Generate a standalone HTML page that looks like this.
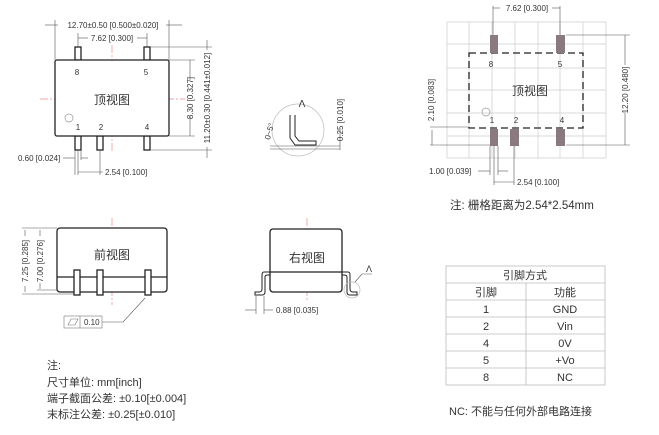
<!DOCTYPE html>
<html><head><meta charset="utf-8"><style>
html,body{margin:0;padding:0;background:#fff;width:659px;height:435px;overflow:hidden}
svg{display:block}
text{font-family:"Liberation Sans","Noto Sans CJK SC",sans-serif;fill:#333}
.s{font-size:8px}
.c{font-size:12px}
.ln{stroke:#222;stroke-width:1.3;fill:#fff}
.d{stroke:#555;stroke-width:0.6;fill:none}
.r{stroke:#e88;stroke-width:0.7;stroke-dasharray:8 2 2 2;fill:none}
.g{stroke:#ccc;stroke-width:0.7}
</style></head><body>
<svg width="659" height="435" viewBox="0 0 659 435">
<!-- TOP VIEW -->
<line class="r" x1="40" y1="99" x2="185" y2="99"/>
<line class="r" x1="112" y1="45" x2="112" y2="152"/>
<g class="ln">
<rect x="75" y="47" width="6" height="13"/><rect x="144" y="47" width="6" height="13"/>
<rect x="75" y="136" width="6" height="14"/><rect x="97" y="136" width="6" height="14"/><rect x="144" y="136" width="6" height="14"/>
<rect x="55" y="60" width="114" height="76" rx="2"/>
</g>
<circle cx="69" cy="118" r="4" fill="none" stroke="#999" stroke-width="0.7"/>
<text x="112" y="104" class="c" text-anchor="middle">顶视图</text>
<g class="s" text-anchor="middle"><text x="77" y="75">8</text><text x="146" y="75">5</text><text x="78" y="130">1</text><text x="101" y="130">2</text><text x="147" y="130">4</text></g>
<g class="d">
<line x1="55" y1="20" x2="55" y2="60"/><line x1="169" y1="20" x2="169" y2="60"/>
<line x1="45" y1="25" x2="58" y2="25"/><line x1="166" y1="25" x2="182" y2="25"/>
<line x1="78" y1="33" x2="78" y2="47"/><line x1="147" y1="33" x2="147" y2="47"/>
<line x1="78" y1="38" x2="88" y2="38"/><line x1="137" y1="38" x2="147" y2="38"/>
<line x1="169" y1="60" x2="195" y2="60"/><line x1="169" y1="136" x2="195" y2="136"/>
<line x1="190" y1="60" x2="190" y2="80"/><line x1="190" y1="116" x2="190" y2="136"/>
<line x1="150" y1="47" x2="212" y2="47"/><line x1="150" y1="150" x2="212" y2="150"/>
<line x1="207" y1="40" x2="207" y2="50"/><line x1="207" y1="147" x2="207" y2="158"/>
<line x1="75" y1="150" x2="75" y2="175"/><line x1="81" y1="150" x2="81" y2="160"/><line x1="100" y1="150" x2="100" y2="175"/><line x1="78" y1="150" x2="78" y2="175"/>
<line x1="63" y1="158" x2="75" y2="158"/><line x1="81" y1="158" x2="88" y2="158"/>
<line x1="78" y1="172" x2="103" y2="172"/>
</g>
<text x="113" y="28" class="s" text-anchor="middle">12.70±0.50 [0.500±0.020]</text>
<text x="112" y="41" class="s" text-anchor="middle">7.62 [0.300]</text>
<text class="s" transform="translate(193,98) rotate(-90)" text-anchor="middle">8.30 [0.327]</text>
<text class="s" transform="translate(210,98) rotate(-90)" text-anchor="middle">11.20±0.30 [0.441±0.012]</text>
<text x="18" y="161" class="s">0.60 [0.024]</text>
<text x="105" y="175" class="s">2.54 [0.100]</text>
<!-- DETAIL A -->
<circle cx="298" cy="130" r="26" fill="none" stroke="#bbb" stroke-width="0.7"/>
<path d="M290,115 L290,138 L295,145 L316,145 L316,141 L299,141 L295,136 L295,115" fill="none" stroke="#222" stroke-width="1"/>
<text x="302" y="107" font-size="10" text-anchor="middle">Λ</text>
<line class="d" x1="270" y1="146" x2="340" y2="146"/><line class="d" x1="270" y1="149" x2="340" y2="149"/>
<line class="d" x1="340" y1="130" x2="340" y2="150"/>
<text class="s" transform="translate(343,120) rotate(-90)" text-anchor="middle">0.25 [0.010]</text>
<text class="s" transform="translate(272,132) rotate(-75)" text-anchor="middle">0~5°</text>
<!-- RIGHT TOP VIEW (grid) -->
<g class="g">
<line x1="447" y1="22" x2="447" y2="158"/><line x1="469" y1="22" x2="469" y2="158"/><line x1="492" y1="22" x2="492" y2="158"/><line x1="515" y1="22" x2="515" y2="158"/><line x1="538" y1="22" x2="538" y2="158"/><line x1="560" y1="22" x2="560" y2="158"/><line x1="583" y1="22" x2="583" y2="158"/><line x1="606" y1="22" x2="606" y2="158"/>
<line x1="447" y1="22" x2="606" y2="22"/><line x1="447" y1="44" x2="606" y2="44"/><line x1="447" y1="68" x2="606" y2="68"/><line x1="447" y1="90" x2="606" y2="90"/><line x1="447" y1="113" x2="606" y2="113"/><line x1="447" y1="136" x2="606" y2="136"/><line x1="447" y1="158" x2="606" y2="158"/>
</g>
<rect x="469" y="53" width="114" height="75" fill="none" stroke="#222" stroke-width="1.3" stroke-dasharray="7 4"/>
<g fill="#8a7a80"><rect x="490" y="35" width="8" height="18"/><rect x="556" y="35" width="9" height="18"/><rect x="490" y="129" width="8" height="17"/><rect x="510" y="129" width="9" height="17"/><rect x="556" y="129" width="9" height="17"/></g>
<circle cx="486" cy="112" r="4" fill="none" stroke="#999" stroke-width="0.7"/>
<text x="530" y="95" class="c" text-anchor="middle">顶视图</text>
<g class="s" text-anchor="middle"><text x="491" y="67">8</text><text x="560" y="67">5</text><text x="492" y="123">1</text><text x="516" y="123">2</text><text x="562" y="123">4</text></g>
<g class="d">
<line x1="493" y1="6" x2="493" y2="35"/><line x1="560" y1="6" x2="560" y2="35"/>
<line x1="493" y1="8" x2="500" y2="8"/><line x1="552" y1="8" x2="560" y2="8"/>
<line x1="566" y1="35" x2="630" y2="35"/><line x1="566" y1="145" x2="630" y2="145"/>
<line x1="625" y1="35" x2="625" y2="65"/><line x1="625" y1="112" x2="625" y2="145"/>
<line x1="430" y1="127" x2="469" y2="127"/><line x1="430" y1="145" x2="490" y2="145"/><line x1="432" y1="130" x2="432" y2="145"/>
<line x1="490" y1="146" x2="490" y2="175"/><line x1="498" y1="146" x2="498" y2="175"/><line x1="494" y1="146" x2="494" y2="185"/><line x1="514" y1="146" x2="514" y2="185"/>
<line x1="478" y1="171" x2="490" y2="171"/><line x1="498" y1="171" x2="508" y2="171"/>
<line x1="494" y1="182" x2="514" y2="182"/>
</g>
<text x="527" y="11" class="s" text-anchor="middle">7.62 [0.300]</text>
<text class="s" transform="translate(628,90) rotate(-90)" text-anchor="middle">12.20 [0.480]</text>
<text class="s" transform="translate(434,100) rotate(-90)" text-anchor="middle">2.10 [0.083]</text>
<text x="429" y="174" class="s">1.00 [0.039]</text>
<text x="517" y="185" class="s">2.54 [0.100]</text>
<text x="450" y="209" font-size="11.5">注: 栅格距离为2.54*2.54mm</text>
<!-- FRONT VIEW -->
<line class="r" x1="112" y1="218" x2="112" y2="305"/>
<rect class="ln" x="57" y="228" width="110" height="64" rx="3"/>
<line x1="57" y1="277" x2="167" y2="277" stroke="#222" stroke-width="1.2"/>
<g class="ln"><rect x="74" y="270" width="6" height="25"/><rect x="97" y="270" width="6" height="25"/><rect x="145" y="270" width="6" height="25"/></g>
<text x="112" y="259" class="c" text-anchor="middle">前视图</text>
<g class="d">
<line x1="22" y1="228" x2="57" y2="228"/><line x1="22" y1="294" x2="74" y2="294"/><line x1="37" y1="290" x2="57" y2="290"/>
<line x1="25" y1="230" x2="25" y2="236"/><line x1="25" y1="286" x2="25" y2="292"/>
<line x1="40" y1="230" x2="40" y2="236"/><line x1="40" y1="283" x2="40" y2="289"/>
<polyline points="145,298 123,322 102,322"/>
</g>
<text class="s" transform="translate(28,261) rotate(-90)" text-anchor="middle">7.25 [0.285]</text>
<text class="s" transform="translate(43,261) rotate(-90)" text-anchor="middle">7.00 [0.276]</text>
<rect x="64" y="316" width="38" height="12" fill="#fff" stroke="#777" stroke-width="0.6"/>
<line x1="80" y1="316" x2="80" y2="328" stroke="#777" stroke-width="0.6"/>
<path d="M68,325 L71,319 L78,319 L75,325 Z" fill="none" stroke="#777" stroke-width="0.6"/>
<text x="84" y="325" class="s">0.10</text>
<!-- RIGHT VIEW -->
<line class="r" x1="307" y1="218" x2="307" y2="300"/>
<path d="M270,272 L264,272 Q262,272 262,275 L262,289 Q262,292 259,292 L255,292 L255,295 L262,295 Q265,295 265,292 L265,277 Q265,275 268,275 L270,275" fill="#fff" stroke="#222" stroke-width="1"/>
<path d="M342,272 L348,272 Q350,272 350,275 L350,289 Q350,292 353,292 L357,292 L357,295 L350,295 Q347,295 347,292 L347,277 Q347,275 344,275 L342,275" fill="#fff" stroke="#222" stroke-width="1"/>
<rect class="ln" x="270" y="229" width="72" height="63" rx="3"/>
<line x1="270" y1="272" x2="342" y2="272" stroke="#222" stroke-width="1.2"/>
<text x="307" y="262" class="c" text-anchor="middle">右视图</text>
<circle cx="352" cy="290" r="8" fill="none" stroke="#bbb" stroke-width="0.7"/>
<polyline class="d" points="355,282 362,274 372,274"/>
<text x="366" y="272" font-size="9">Λ</text>
<g class="d"><line x1="256" y1="296" x2="256" y2="314"/><line x1="264" y1="296" x2="264" y2="314"/>
<line x1="245" y1="310" x2="256" y2="310"/><line x1="264" y1="310" x2="273" y2="310"/></g>
<text x="276" y="313" class="s">0.88 [0.035]</text>
<!-- NOTES -->
<g font-size="11"><text x="47" y="369">注:</text><text x="47" y="386">尺寸单位: mm[inch]</text><text x="47" y="402">端子截面公差: ±0.10[±0.004]</text><text x="47" y="418">末标注公差: ±0.25[±0.010]</text></g>
<!-- TABLE -->
<g stroke="#bbb" stroke-width="0.8" fill="none">
<rect x="446" y="266" width="159" height="119"/>
<line x1="446" y1="283" x2="605" y2="283"/><line x1="446" y1="300" x2="605" y2="300"/><line x1="446" y1="317" x2="605" y2="317"/><line x1="446" y1="334" x2="605" y2="334"/><line x1="446" y1="351" x2="605" y2="351"/><line x1="446" y1="368" x2="605" y2="368"/>
<line x1="526" y1="283" x2="526" y2="385"/>
</g>
<g font-size="11" text-anchor="middle">
<text x="525" y="279">引脚方式</text>
<text x="486" y="296">引脚</text><text x="565" y="296">功能</text>
<text x="486" y="313">1</text><text x="565" y="313">GND</text>
<text x="486" y="330">2</text><text x="565" y="330">Vin</text>
<text x="486" y="347">4</text><text x="565" y="347">0V</text>
<text x="486" y="364">5</text><text x="565" y="364">+Vo</text>
<text x="486" y="381">8</text><text x="565" y="381">NC</text>
</g>
<text x="449" y="415" font-size="11">NC: 不能与任何外部电路连接</text>
</svg>
</body></html>
